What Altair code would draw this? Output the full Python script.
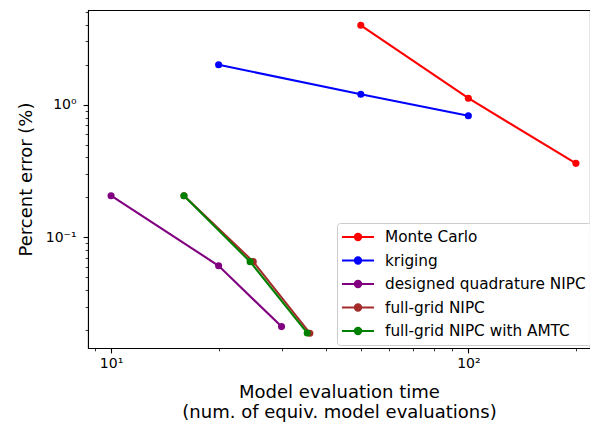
import altair as alt
import pandas as pd

series_names = ["Monte Carlo", "kriging", "designed quadrature NIPC",
                "full-grid NIPC", "full-grid NIPC with AMTC"]
series_colors = ["#ff0000", "#0000ff", "#800080", "#a52a2a", "#008000"]

mc_x = [50, 100, 200]
mc_y = [3.97, 1.12, 0.361]
kr_x = [20, 50, 100]
kr_y = [2.0, 1.20, 0.826]
dq_x = [10, 20, 30]
dq_y = [0.206, 0.061, 0.0212]
fg_x = [16, 25, 36]
fg_y = [0.206, 0.0655, 0.0189]
am_x = [16, 24.5, 35.4]
am_y = [0.206, 0.0655, 0.0190]

x_ticks = [9, 10, 20, 30, 40, 50, 60, 70, 80, 90, 100, 200]
y_ticks = [0.02, 0.03, 0.04, 0.05, 0.06, 0.07, 0.08, 0.09, 0.1,
           0.2, 0.3, 0.4, 0.5, 0.6, 0.7, 0.8, 0.9, 1, 2, 3, 4, 5]

xs = [mc_x, kr_x, dq_x, fg_x, am_x]
ys = [mc_y, kr_y, dq_y, fg_y, am_y]
rows = []
for name, sx, sy in zip(series_names, xs, ys):
    for a, b in zip(sx, sy):
        rows.append({"series": name, "x": a, "y": b})
df = pd.DataFrame(rows)

major_test = "abs(log(datum.value)/LN10 - round(log(datum.value)/LN10)) < 1e-6"
FONT = "DejaVu Sans"

x_scale = alt.Scale(type="log", domain=[8.62, 219], nice=False)
y_scale = alt.Scale(type="log", domain=[0.01462, 5.18], nice=False)

x_axis = alt.Axis(
    values=x_ticks,
    labelExpr="datum.value == 10 ? '10¹' : datum.value == 100 ? '10²' : ''",
    tickSize={"condition": {"test": major_test, "value": 4.9}, "value": 2.8},
    tickWidth={"condition": {"test": major_test, "value": 1.1}, "value": 0.8},
    title=["Model evaluation time", "(num. of equiv. model evaluations)"],
    titleLineHeight=19.5, titlePadding=13, labelPadding=4, labelFlush=False,
    labelOverlap=False,
)
y_axis = alt.Axis(
    values=y_ticks,
    labelExpr="datum.value == 1 ? '10⁰' : abs(datum.value - 0.1) < 1e-9 ? '10⁻¹' : ''",
    tickSize={"condition": {"test": major_test, "value": 4.9}, "value": 2.8},
    tickWidth={"condition": {"test": major_test, "value": 1.1}, "value": 0.8},
    title="Percent error (%)", titlePadding=10, labelPadding=7, labelFlush=False,
    labelOverlap=False,
)

sym_path = ("M-2,0H2M0.4,0A0.4,0.4,0,1,1,-0.4,0"
            "A0.4,0.4,0,1,1,0.4,0Z")

legend = alt.Legend(
    title=None, orient="none", legendX=249, legendY=213,
    symbolType=sym_path, symbolSize=256, symbolStrokeWidth=2,
    labelFont=FONT, labelFontSize=15.3, labelColor="black", labelLimit=0,
    fillColor="rgba(255,255,255,0.8)", strokeColor="#cccccc",
    cornerRadius=3, padding=5, rowPadding=5.5, labelOffset=18,
    symbolOffset=7,
)

stroke_scale = alt.Scale(domain=series_names, range=series_colors)

layers = []
for i, name in enumerate(series_names):
    base = alt.Chart(df).transform_filter(alt.datum.series == name)
    line = base.mark_line(strokeWidth=2.1).encode(
        x=alt.X("x:Q", scale=x_scale, axis=x_axis),
        y=alt.Y("y:Q", scale=y_scale, axis=y_axis),
        stroke=alt.Stroke("series:N", scale=stroke_scale, legend=legend),
    )
    pts = base.mark_point(filled=True, size=50, opacity=1).encode(
        x=alt.X("x:Q", scale=x_scale, axis=x_axis),
        y=alt.Y("y:Q", scale=y_scale, axis=y_axis),
        fill=alt.Fill("series:N", scale=stroke_scale, legend=legend),
    )
    layers += [line, pts]

chart = alt.layer(*layers).properties(
    width=502, height=338,
    autosize=alt.AutoSizeParams(type="none"),
    padding={"left": 88, "top": 10, "right": 0, "bottom": 78},
    background="white",
).configure_view(
    stroke="black", strokeWidth=1.07
).configure_axis(
    grid=False, domainColor="black", domainWidth=1.07, tickColor="black",
    labelFont=FONT, labelFontSize=14, labelColor="black",
    titleFont=FONT, titleFontSize=18, titleFontWeight="normal",
    titleColor="black",
)

chart.save("out.html", embed_options={"renderer": "svg", "actions": False})
